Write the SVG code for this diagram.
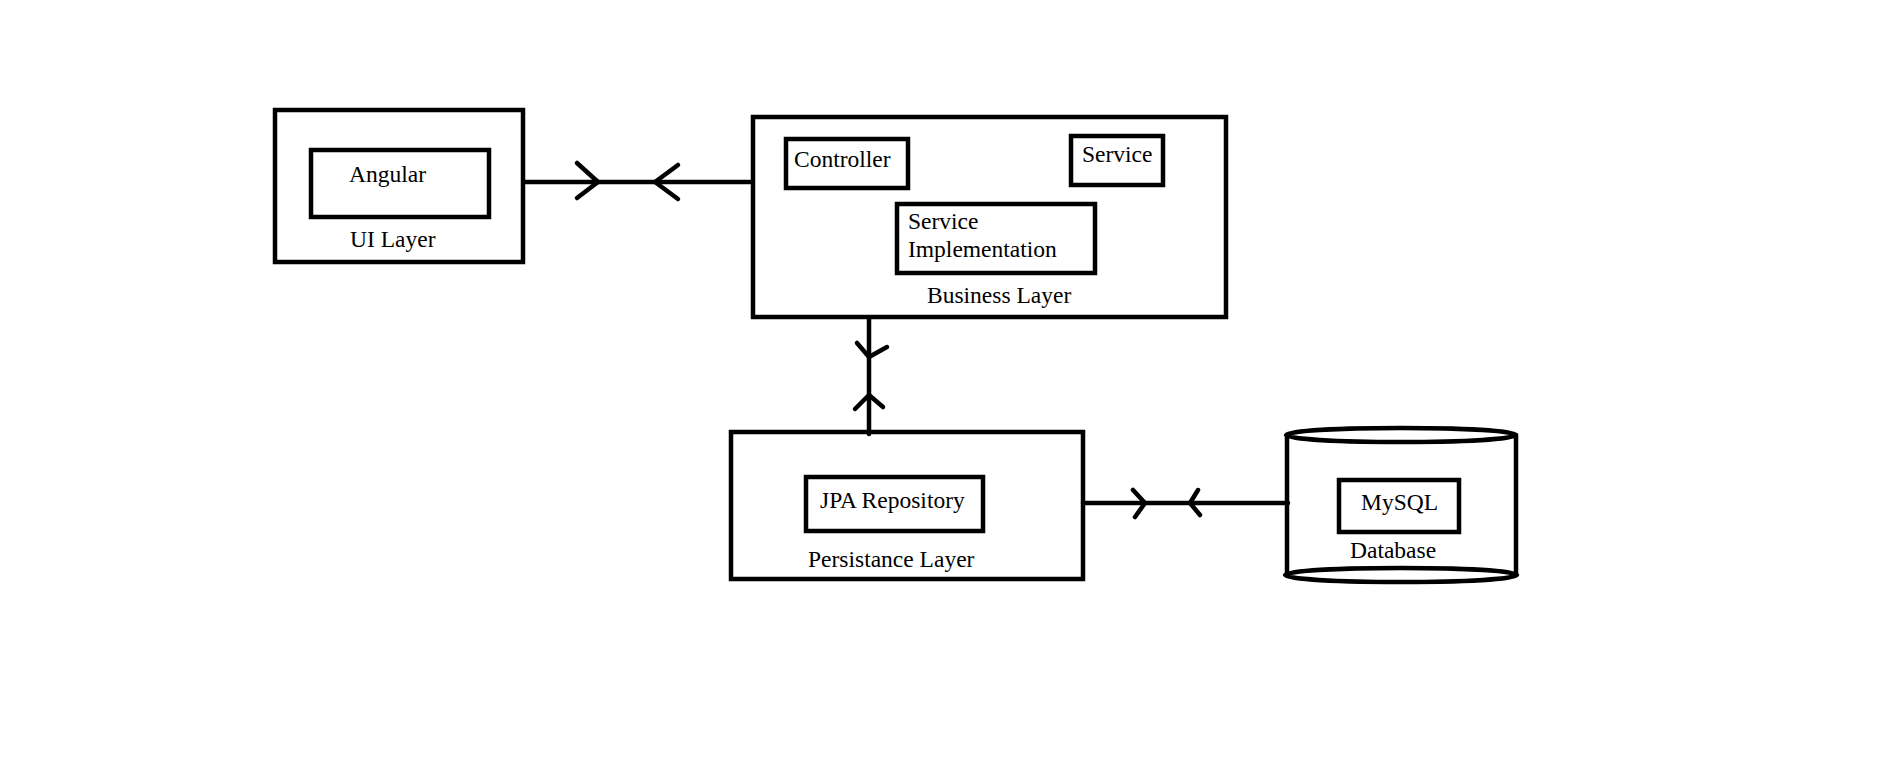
<svg xmlns="http://www.w3.org/2000/svg" width="1885" height="759" viewBox="0 0 1885 759">
<style>
.box{fill:none;stroke:#000;stroke-width:4.5}
.ln{fill:none;stroke:#000;stroke-width:4.5;stroke-linecap:round;stroke-linejoin:round}
.t{font-family:"Liberation Serif","Times New Roman",serif;font-size:23.5px;fill:#000}
</style>
<rect width="1885" height="759" fill="#fff"/>
<g id="ui-layer">
<rect class="box" x="275" y="110" width="248" height="152"/>
<rect class="box" x="311" y="150" width="178" height="67"/>
<text class="t" x="349" y="182">Angular</text>
<text class="t" x="350" y="247">UI Layer</text>
</g>
<g id="business-layer">
<rect class="box" x="753" y="117" width="473" height="200"/>
<rect class="box" x="786" y="139" width="122" height="49"/>
<text class="t" x="794" y="167">Controller</text>
<rect class="box" x="1071" y="136" width="92" height="49"/>
<text class="t" x="1082" y="162">Service</text>
<rect class="box" x="897" y="204" width="198" height="69"/>
<text class="t" x="908" y="229">Service</text>
<text class="t" x="908" y="257">Implementation</text>
<text class="t" x="927" y="303">Business Layer</text>
</g>
<g id="persistance-layer">
<rect class="box" x="731" y="432" width="352" height="147"/>
<rect class="box" x="806" y="477" width="177" height="54"/>
<text class="t" x="820" y="508">JPA Repository</text>
<text class="t" x="808" y="567">Persistance Layer</text>
</g>
<g id="database">
<line class="ln" x1="1287" y1="435" x2="1287" y2="575"/>
<line class="ln" x1="1516" y1="435" x2="1516" y2="575"/>
<ellipse class="box" cx="1401" cy="435" rx="115" ry="7"/>
<ellipse class="box" cx="1401" cy="575" rx="116" ry="7"/>
<rect class="box" x="1339" y="480" width="120" height="52"/>
<text class="t" x="1361" y="510">MySQL</text>
<text class="t" x="1350" y="558">Database</text>
</g>
<g id="connectors">
<line class="ln" x1="525" y1="182" x2="752" y2="182"/>
<polyline class="ln" points="577,163 598,182 577,198"/>
<polyline class="ln" points="678,165 655,182 678,199"/>
<line class="ln" x1="869" y1="319" x2="869" y2="434"/>
<polyline class="ln" points="857,343 869,357 887,347"/>
<polyline class="ln" points="855,409 869,395 883,407"/>
<line class="ln" x1="1083" y1="503" x2="1288" y2="503"/>
<polyline class="ln" points="1133,490 1145,503 1135,517"/>
<polyline class="ln" points="1198,490 1190,503 1200,515"/>
</g>
</svg>
